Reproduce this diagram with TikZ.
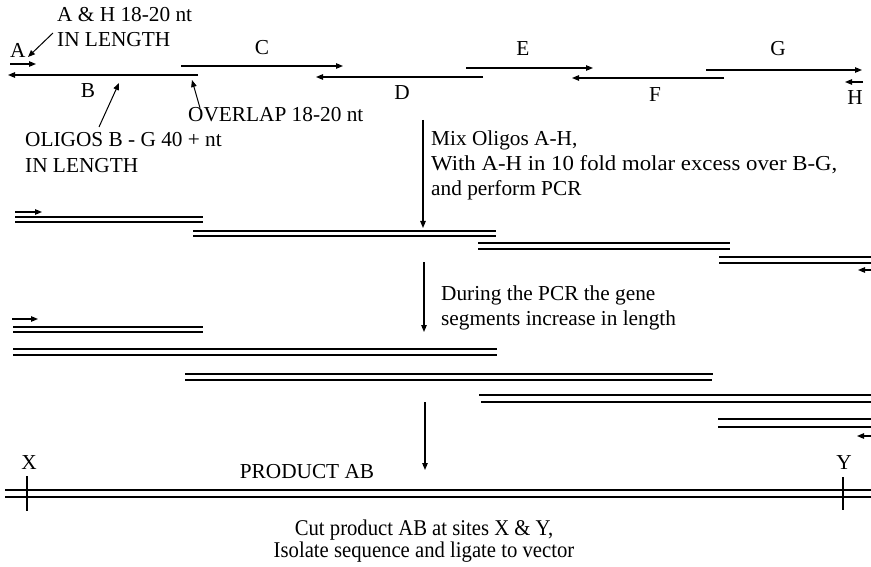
\documentclass[tikz,border=0pt]{standalone}
\usepackage{fontspec}
\setmainfont{Liberation Serif}
\usetikzlibrary{arrows.meta}
\begin{document}
\begin{tikzpicture}[x=1pt,y=-1pt,
  every node/.style={inner sep=0pt,font=\fontsize{21.3}{26}\selectfont},
  strand/.style={line width=1.3pt},
  arr/.style={line width=1.1pt,-{Triangle[length=7pt,width=5.5pt]}},
  ptr/.style={line width=1pt,-{Triangle[length=7pt,width=5.5pt]}},
  lbl/.style={anchor=base},
  txt/.style={anchor=base west},
  cuttxt/.style={anchor=base,font=\fontsize{22.5}{26}\selectfont,xscale=0.92}]
\useasboundingbox (0,0) rectangle (871,567);
% ---- top: oligos ----
\node[txt] (ah1) at (57,22) {A \& H 18-20 nt};
\node[txt] (ah2) at (57,47) {IN LENGTH};
\node[txt] (la) at (10,58) {A};
\coordinate (a1) at (10,64); \coordinate (a2) at (36,64);
\draw[arr] (a1) -- (a2);
\coordinate (p1s) at (53,33); \coordinate (p1e) at (28,57);
\draw[ptr] (p1s) -- (p1e);
\coordinate (b1) at (198,75); \coordinate (b2) at (8,75);
\draw[arr] (b1) -- (b2);
\node[lbl] (lb) at (88,98) {B};
\coordinate (c1) at (181,66); \coordinate (c2) at (343,66);
\draw[arr] (c1) -- (c2);
\node[lbl] (lc) at (262,55) {C};
\coordinate (d1) at (483,77); \coordinate (d2) at (316,77);
\draw[arr] (d1) -- (d2);
\node[lbl] (ld) at (402,100) {D};
\coordinate (e1) at (466,68); \coordinate (e2) at (593,68);
\draw[arr] (e1) -- (e2);
\node[lbl] (le) at (523,56) {E};
\coordinate (f1) at (724,78); \coordinate (f2) at (572,78);
\draw[arr] (f1) -- (f2);
\node[lbl] (lf) at (655,102) {F};
\coordinate (g1) at (706,70); \coordinate (g2) at (862,70);
\draw[arr] (g1) -- (g2);
\node[lbl] (lg) at (778,56) {G};
\coordinate (h1) at (863,82); \coordinate (h2) at (845,82);
\draw[arr] (h1) -- (h2);
\node[lbl] (lh) at (855,105) {H};
\coordinate (p2s) at (99,127); \coordinate (p2e) at (119,83);
\draw[ptr] (p2s) -- (p2e);
\coordinate (p3s) at (200,108); \coordinate (p3e) at (192,80);
\draw[ptr] (p3s) -- (p3e);
\node[txt] (ov) at (188,122) {OVERLAP 18-20 nt};
\node[txt] (ol1) at (25,147) {OLIGOS B - G 40 + nt};
\node[txt] (ol2) at (25,173) {IN LENGTH};
% ---- step 1 ----
\coordinate (s1a) at (423,120); \coordinate (s1b) at (423,228);
\draw[arr] (s1a) -- (s1b);
\node[txt] (m1) at (431,146) {Mix Oligos A-H,};
\node[txt,xscale=1.07] (m2) at (431,171) {With A-H in 10 fold molar excess over B-G,};
\node[txt] (m3) at (431,196) {and perform PCR};
% ---- round 1 ----
\coordinate (r1a) at (15,212); \coordinate (r1b) at (42,212);
\draw[arr] (r1a) -- (r1b);
\draw[strand] (15,217) -- (203,217) (15,222) -- (203,222);
\draw[strand] (193,231) -- (496,231) (193,236) -- (496,236);
\draw[strand] (478,243) -- (730,243) (478,249) -- (730,249);
\draw[strand] (719,257) -- (871,257) (719,263) -- (871,263);
\coordinate (r1c) at (871,270); \coordinate (r1d) at (858,270);
\draw[arr] (r1c) -- (r1d);
% ---- step 2 ----
\coordinate (s2a) at (424,262); \coordinate (s2b) at (424,332);
\draw[arr] (s2a) -- (s2b);
\node[txt] (dg1) at (441,300) {During the PCR the gene};
\node[txt] (dg2) at (441,325) {segments increase in length};
% ---- round 2 ----
\coordinate (r2a) at (12,319); \coordinate (r2b) at (38,319);
\draw[arr] (r2a) -- (r2b);
\draw[strand] (13,327) -- (203,327) (13,332) -- (203,332);
\draw[strand] (13,349) -- (497,349) (13,355) -- (497,355);
\draw[strand] (185,374) -- (713,374) (185,380) -- (712,380);
\draw[strand] (479,395) -- (871,395) (481,402) -- (871,402);
\draw[strand] (718,419) -- (871,419) (718,427) -- (871,427);
\coordinate (r2c) at (871,436); \coordinate (r2d) at (857,436);
\draw[arr] (r2c) -- (r2d);
% ---- step 3 ----
\coordinate (s3a) at (425,402); \coordinate (s3b) at (425,470);
\draw[arr] (s3a) -- (s3b);
% ---- product ----
\draw[strand] (5,490) -- (871,490) (5,497) -- (871,497);
\node[lbl] (lx) at (29,469) {X};
\coordinate (x1) at (27,476); \coordinate (x2) at (27,511);
\draw[strand] (x1) -- (x2);
\node[lbl] (ly) at (844,469) {Y};
\coordinate (y1) at (843,477); \coordinate (y2) at (843,510);
\draw[strand] (y1) -- (y2);
\node[lbl] (pab) at (307,478) {PRODUCT AB};
\node[cuttxt] (cut1) at (424,535) {Cut product AB at sites X \& Y,};
\node[cuttxt] (cut2) at (424,557) {Isolate sequence and ligate to vector};
\end{tikzpicture}
\end{document}
